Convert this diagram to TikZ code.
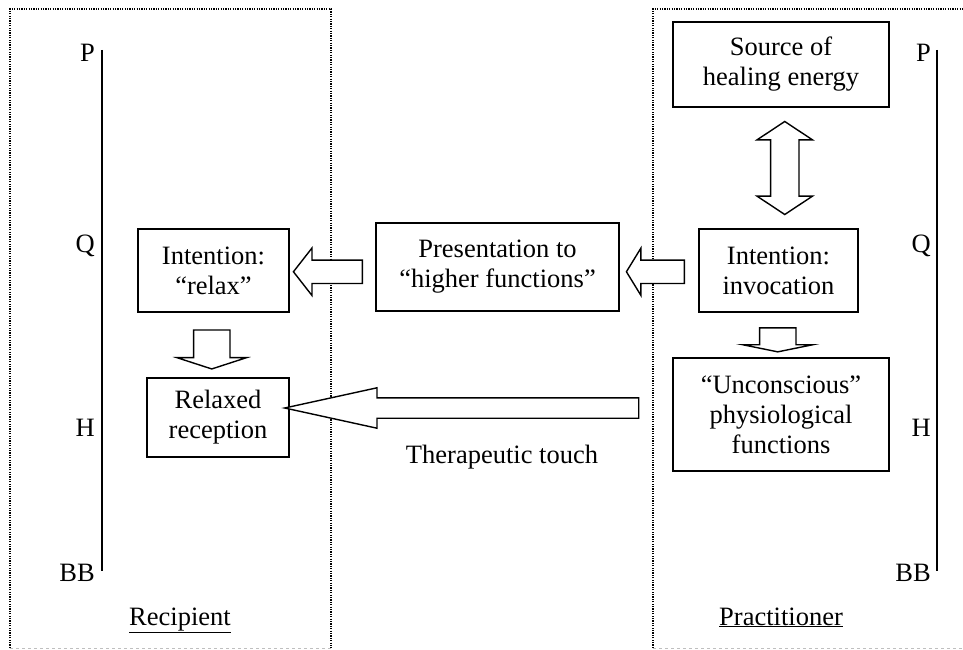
\documentclass[tikz,border=0pt]{standalone}
\usepackage{fontspec}
\setmainfont{Liberation Serif}
\usetikzlibrary{shapes.arrows}
\usetikzlibrary{calc}
\tikzset{box/.style={draw, line width=1.4pt, align=center, inner sep=0pt},
%hollow arrows between the boxes
blockarrow/.style={single arrow, draw, line width=1.4pt, fill=white, outer sep=0pt, minimum width=1pt, single arrow head indent=0pt},
framed/.style={line width=1.2pt, dash pattern=on 1.2pt off 1.2pt}}

\begin{document}
\begin{tikzpicture}[x=1pt, y=-1pt, font=\fontsize{26.5}{30}\selectfont]
\useasboundingbox (0,0) rectangle (963,650);

% frames
\draw[framed] (10,648) -- (10,9) -- (331,9) -- (331,648);
\draw[gray!50, dashed, line width=0.6pt] (10,648) -- (331,648);
\draw[framed] (653,648) -- (653,9) -- (980,9);
\draw[gray!50, dashed, line width=0.6pt] (653,648) -- (963,648);

% levels
\coordinate (lTop) at (102,50);
\coordinate (lBot) at (102,571);
\coordinate (rTop) at (937,50);
\coordinate (rBot) at (937,571);
\draw[line width=1.4pt] (lTop) -- (lBot);
\draw[line width=1.4pt] (rTop) -- (rBot);
\foreach \y/\ytext in {53/P,246/Q,428/H,573/BB}
  {\node[anchor=east, inner sep=0pt] (l\ytext) at (95,\y) {\ytext};
   \node[anchor=east, inner sep=0pt] (r\ytext) at (931,\y) {\ytext};}

% boxes
\node[box, minimum width=151, minimum height=83] (relax) at (213.5,270.5) {Intention:\\``relax''};
\node[box, minimum width=142, minimum height=79] (relaxed) at (218,417.5) {Relaxed\\reception};
\node[box, minimum width=243, minimum height=88] (pres) at (497.5,267) {Presentation to\\``higher functions''};
\node[box, minimum width=216, minimum height=85] (source) at (781,64.5) {Source of\\healing energy};
\node[box, minimum width=159, minimum height=83] (inv) at (778.5,270.5) {Intention:\\invocation};
\node[box, minimum width=216, minimum height=113] (uncon) at (781,414.5) {``Unconscious''\\physiological\\functions};

% arrows
\node[double arrow, draw, line width=1.4pt, shape border rotate=90, inner ysep=0pt, inner xsep=13.5pt, outer sep=0pt, minimum width=1pt,
  double arrow head extend=13.5pt, double arrow tip angle=113, double arrow head indent=0pt, minimum height=93pt, xshift=5pt]
  (link) at ($(source.south)!0.5!(inv.north)$) {};
\node[blockarrow, shape border rotate=180, inner xsep=0pt, inner ysep=11pt, single arrow head extend=12pt, single arrow tip angle=117, minimum height=58pt, yshift=-3pt]
  (toPres) at ($(inv.west)!0.5!(pres.east)$) {};
\node[blockarrow, shape border rotate=180, inner xsep=0pt, inner ysep=11pt, single arrow head extend=12pt, single arrow tip angle=104, minimum height=69pt, yshift=-3pt]
  (toRelax) at ($(pres.west)!0.5!(relax.east)$) {};
\node[blockarrow, shape border rotate=270, inner ysep=0pt, inner xsep=17.5pt, single arrow head extend=16.5pt, single arrow tip angle=144, minimum height=39pt, xshift=-4pt, yshift=-1.5pt]
  (down1) at ($(relax.south)!0.5!(relaxed.north)$) {};
\node[blockarrow, shape border rotate=270, inner ysep=0pt, inner xsep=17.5pt, single arrow head extend=16.5pt, single arrow tip angle=157, minimum height=24pt, xshift=-2pt, yshift=-3pt]
  (down2) at ($(inv.south)!0.5!(uncon.north)$) {};
\node[blockarrow, shape border rotate=180, inner xsep=0pt, inner ysep=9.5pt, single arrow head extend=10pt, single arrow tip angle=24.7, minimum height=354pt, xshift=4pt, yshift=8pt]
  (touch) at ($(uncon.west)!0.5!(relaxed.east)$) {};

% labels
\node[anchor=base] (touchlbl) at (502,463) {Therapeutic touch};
\node[anchor=base] (recip) at (180,625) {\underline{Recipient}};
\node[anchor=base] (pract) at (781,625) {\underline{Practitioner}};

\end{tikzpicture}
\end{document}
